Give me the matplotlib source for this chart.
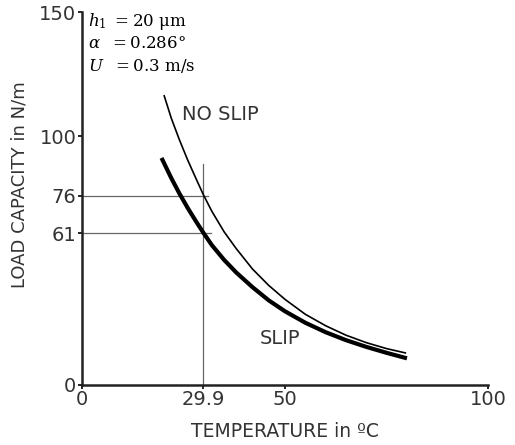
import matplotlib
matplotlib.use('Agg')
import matplotlib.pyplot as plt

# 读图数据
temp_noslip = [20.2, 22, 24, 26, 28, 29.9, 32, 35, 38, 42, 46, 50, 55, 60, 65, 70, 75, 79.8]
load_noslip = [116.6, 107.3, 98.6, 90.6, 83.3, 76.5, 69.8, 61.6, 54.8, 46.6, 40.0, 34.4,
               28.4, 23.8, 20.0, 17.0, 14.6, 12.8]
temp_slip = [19.6, 22, 24, 26, 28, 29.9, 32, 35, 38, 42, 46, 50, 55, 60, 65, 70, 75, 80]
load_slip = [91.3, 83.2, 77.0, 71.3, 66.0, 61.2, 56.2, 50.3, 45.2, 39.3, 34.0, 29.6,
             25.0, 21.2, 18.0, 15.3, 12.9, 10.7]

x_ticks = [0, 29.9, 50, 100]
x_labels = ['0', '29.9', '50', '100']
y_ticks = [0, 61, 76, 100, 150]
y_labels = ['0', '61', '76', '100', '150']

t_mark = 29.9
w_noslip = 76
w_slip = 61

plt.rcParams['mathtext.fontset'] = 'dejavuserif'

fig = plt.figure(figsize=(5.15, 4.45), dpi=100)
ax = fig.add_axes([0.159, 0.135, 0.789, 0.838])

# 辅助线
gcol = '#666666'
ax.plot([0, 31.0], [w_noslip, w_noslip], color=gcol, lw=0.9)
ax.plot([0, 31.7], [w_slip, w_slip], color=gcol, lw=0.9)
ax.plot([t_mark, t_mark], [0, 89], color=gcol, lw=0.9)

ax.plot(temp_noslip, load_noslip, color='black', lw=1.2, solid_capstyle='butt')
ax.plot(temp_slip, load_slip, color='black', lw=3.0, solid_capstyle='butt')

tcol = '#333333'
ax.text(24.6, 108.6, 'NO SLIP', fontsize=14, color=tcol, ha='left', va='center')
ax.text(43.8, 18.5, 'SLIP', fontsize=14, color=tcol, ha='left', va='center')

ax.text(1.5, 144.3, r'$h_1\ = 20\ \mathrm{\mu m}$', fontsize=12, va='baseline')
ax.text(1.5, 135.5, r'$\alpha\ \ = 0.286\degree$', fontsize=12, va='baseline')
ax.text(1.5, 126.3, r'$U\ \ = 0.3\ \mathrm{m/s}$', fontsize=12, va='baseline')

ax.set_xlim(0, 100)
ax.set_ylim(0, 150)
ax.set_xticks(x_ticks)
ax.set_xticklabels(x_labels)
ax.set_yticks(y_ticks)
ax.set_yticklabels(y_labels)
ax.tick_params(labelsize=14, labelcolor=tcol, length=3, width=1.2, pad=1)
for s in ['top', 'right']:
    ax.spines[s].set_visible(False)
for s in ['left', 'bottom']:
    ax.spines[s].set_linewidth(1.8)
    ax.spines[s].set_color('#222222')

ax.set_xlabel('TEMPERATURE in ºC', fontsize=13.5, color=tcol, va='center')
ax.set_ylabel('LOAD CAPACITY in N/m', fontsize=13, color=tcol, va='center')
ax.xaxis.set_label_coords(0.5, -0.126)
ax.yaxis.set_label_coords(-0.153, 0.536)

fig.savefig('out.png', dpi=100)
